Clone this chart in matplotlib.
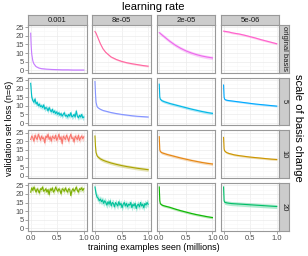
import numpy as np
import matplotlib
matplotlib.use("Agg")
import matplotlib.pyplot as plt

plt.rcParams["font.family"] = ["Liberation Sans", "DejaVu Sans"]

learning_rates = ["0.001", "8e-05", "2e-05", "5e-06"]
scales = ["original basis", "5", "10", "20"]

# colours as ggplot's hue palette assigned them (string-sorted factor levels)
colours = {
    ("original basis", "0.001"): "#C77CFF", ("original basis", "8e-05"): "#FF68A1",
    ("original basis", "2e-05"): "#ED68ED", ("original basis", "5e-06"): "#FF61CC",
    ("5", "0.001"): "#00BFC4", ("5", "8e-05"): "#8494FF",
    ("5", "2e-05"): "#00B8E7", ("5", "5e-06"): "#00A9FF",
    ("10", "0.001"): "#F8766D", ("10", "8e-05"): "#ABA300",
    ("10", "2e-05"): "#E68613", ("10", "5e-06"): "#CD9600",
    ("20", "0.001"): "#7CAE00", ("20", "8e-05"): "#00C19A",
    ("20", "2e-05"): "#0CB702", ("20", "5e-06"): "#00BE67",
}

# smooth runs, sampled at these points (millions of examples)
x_smooth = [0, 0.01, 0.02, 0.04, 0.06, 0.1, 0.15, 0.2, 0.3, 0.4, 0.5, 0.6, 0.7, 0.8, 0.9, 1.0]

orig_001 = [21.5, 14, 9.5, 5.5, 3.8, 2.2, 1.4, 1.0, 0.7, 0.5, 0.4, 0.3, 0.3, 0.2, 0.2, 0.2]
orig_8e5 = [22.5, 22, 21.5, 20, 18.5, 15.5, 12.5, 10.5, 7.8, 6.3, 5.2, 4.4, 3.8, 3.3, 2.8, 2.4]
orig_2e5 = [21.8, 21.6, 21.3, 20.8, 20.3, 19.3, 18, 16.8, 14.6, 12.8, 11.3, 10.1, 9.1, 8.3, 7.7, 7.2]
orig_5e6 = [22.7, 22.6, 22.6, 22.5, 22.4, 22.2, 21.8, 21.5, 21, 20.3, 19.5, 18.7, 17.8, 17, 16.2, 15.4]
s5_8e5 = [24, 17, 12, 9.5, 8.8, 8.0, 7.3, 6.9, 6.1, 5.5, 5.0, 4.6, 4.2, 3.9, 3.7, 3.5]
s5_2e5 = [22.5, 15, 13.8, 13.2, 12.8, 12.3, 11.8, 11.3, 10.5, 9.7, 8.9, 8.1, 7.4, 6.7, 6.1, 5.6]
s5_5e6 = [22, 15, 13.8, 13.4, 13.2, 13, 12.8, 12.6, 12.2, 11.8, 11.4, 11, 10.7, 10.4, 10.1, 9.8]
s10_8e5 = [23, 17, 13.5, 11.5, 10.8, 9.8, 9.0, 8.4, 7.4, 6.6, 5.9, 5.3, 4.8, 4.3, 3.9, 3.5]
s10_2e5 = [22.6, 15, 14, 13.5, 13.2, 12.8, 12.3, 11.9, 11.1, 10.3, 9.6, 8.9, 8.3, 7.7, 7.2, 6.8]
s10_5e6 = [22.2, 15.5, 14.4, 13.8, 13.4, 12.9, 12.5, 12.1, 11.6, 11.2, 10.8, 10.5, 10.2, 9.9, 9.6, 9.4]
s20_2e5 = [24, 16, 14.3, 13.8, 13.4, 13, 12.6, 12.2, 11.2, 10.3, 9.5, 8.7, 8.0, 7.4, 6.8, 6.3]
s20_5e6 = [24, 16, 15.2, 15, 14.8, 14.6, 14.4, 14.3, 14.1, 13.9, 13.7, 13.5, 13.3, 13.1, 12.9, 12.7]

# noisy runs, read at evenly spaced points
s5_001 = [23, 15, 13, 12, 14, 11, 12, 10, 11, 9.5, 10, 9, 10.5, 8, 9, 8.5, 7, 9, 7.5, 6.5,
          8, 6, 7, 5.5, 6.5, 5, 6, 4.5, 5.5, 4, 5, 6, 4, 4.5, 3.5, 5, 4, 6, 3.5, 4,
          5, 3.5, 7, 4, 3, 4.5, 3.5, 5, 3, 3.5]
s10_001 = [21, 23, 22, 20, 23.5, 22, 21, 24, 22.5, 20.5, 23, 21.5, 22, 19, 23, 22, 24, 21, 22.5, 20,
           23, 22, 21.5, 23.5, 20.5, 22, 24, 21, 22.5, 18.5, 23, 22, 21, 23.5, 22, 20, 22.5, 24, 21.5, 22,
           19.5, 23, 22, 21, 23.5, 20.5, 22, 23, 21.5, 22.5]
s20_001 = [21, 23.5, 22, 24, 22.5, 21, 23, 22, 20.5, 23, 22.5, 24, 21.5, 22, 23, 21, 22.5, 19.5, 23, 22,
           23.5, 21, 22, 24, 22.5, 21.5, 23, 22, 20, 23, 22.5, 21.5, 23.5, 22, 21, 23, 22.5, 19, 22, 23,
           21.5, 22.5, 24, 22, 21, 23, 22.5, 23.5, 22, 23]
s20_8e5 = [24, 20, 18, 17.5, 16, 17, 15.5, 16.5, 14.5, 16, 15, 13.5, 15.5, 14, 16, 13, 15, 14.5, 12.5, 15,
           14, 13, 15.5, 13.5, 14.5, 12, 14, 15, 13, 14.5, 12.5, 14, 13.5, 15, 12, 14, 13, 14.5, 11.5, 13.5,
           14, 12.5, 15, 13, 14, 12, 14.5, 13.5, 15, 14]

series = {
    ("original basis", "0.001"): orig_001, ("original basis", "8e-05"): orig_8e5,
    ("original basis", "2e-05"): orig_2e5, ("original basis", "5e-06"): orig_5e6,
    ("5", "0.001"): s5_001, ("5", "8e-05"): s5_8e5, ("5", "2e-05"): s5_2e5, ("5", "5e-06"): s5_5e6,
    ("10", "0.001"): s10_001, ("10", "8e-05"): s10_8e5, ("10", "2e-05"): s10_2e5, ("10", "5e-06"): s10_5e6,
    ("20", "0.001"): s20_001, ("20", "8e-05"): s20_8e5, ("20", "2e-05"): s20_2e5, ("20", "5e-06"): s20_5e6,
}

# half width of the ribbon around each mean
band = {
    ("original basis", "0.001"): 0.3, ("original basis", "8e-05"): 0.5,
    ("original basis", "2e-05"): 1.0, ("original basis", "5e-06"): 0.6,
    ("5", "0.001"): 1.5, ("5", "8e-05"): 0.4, ("5", "2e-05"): 0.8, ("5", "5e-06"): 0.5,
    ("10", "0.001"): 1.8, ("10", "8e-05"): 1.0, ("10", "2e-05"): 0.8, ("10", "5e-06"): 0.6,
    ("20", "0.001"): 1.5, ("20", "8e-05"): 2.0, ("20", "2e-05"): 0.7, ("20", "5e-06"): 1.2,
}

W, H = 308, 256
fig = plt.figure(figsize=(W / 100, H / 100), dpi=100)

def px_axes(left, top, width, height):
    return fig.add_axes([left / W, 1 - (top + height) / H, width / W, height / H])

col_left = [28, 92.3, 156.6, 220.9]
row_top = [25, 77.7, 130.4, 183.1]
pw, ph = 58.5, 47.5
text_col = "#4D4D4D"

def strip(ax):
    ax.set_facecolor("#CCCCCC")
    ax.set_xticks([])
    ax.set_yticks([])
    for s in ax.spines.values():
        s.set_color("#999999")
        s.set_linewidth(0.8)

for r, sc in enumerate(scales):
    for c, lr in enumerate(learning_rates):
        ax = px_axes(col_left[c], row_top[r], pw, ph)
        y = np.array(series[(sc, lr)], dtype=float)
        if len(y) == len(x_smooth):
            x = np.array(x_smooth)
        else:
            x = np.linspace(0, 1, len(y))
        col = colours[(sc, lr)]
        b = band[(sc, lr)]
        ax.fill_between(x, y - b, y + b, color=col, alpha=0.3, lw=0)
        ax.plot(x, y, color=col, lw=0.8)

        ax.set_xlim(-0.05, 1.05)
        ax.set_ylim(-1.25, 26.25)
        ax.set_xticks([0, 0.5, 1.0])
        ax.set_xticks([0.25, 0.75], minor=True)
        ax.set_yticks([0, 5, 10, 15, 20, 25])
        ax.set_yticks([2.5, 7.5, 12.5, 17.5, 22.5], minor=True)
        ax.grid(which="major", color="#EBEBEB", lw=0.5)
        ax.grid(which="minor", color="#F7F7F7", lw=0.4)
        ax.set_axisbelow(True)
        for s in ax.spines.values():
            s.set_color("#999999")
            s.set_linewidth(0.8)
        ax.tick_params(which="minor", length=0)
        ax.tick_params(which="major", length=2, width=0.5, color="#7F7F7F",
                       labelsize=5.5, labelcolor=text_col, pad=1)
        if c == 0:
            ax.set_yticklabels(["0", "5", "10", "15", "20", "25"])
        else:
            ax.tick_params(axis="y", length=0, labelleft=False)
        if r == 3:
            ax.set_xticklabels(["0.0", "0.5", "1.0"])
        else:
            ax.tick_params(axis="x", length=0, labelbottom=False)

        if r == 0:
            st = px_axes(col_left[c], 15, pw, 10)
            strip(st)
            st.text(0.5, 0.45, lr, ha="center", va="center", fontsize=5.5, color="#1A1A1A")
        if c == 3:
            st = px_axes(279.4, row_top[r], 9.6, ph)
            strip(st)
            st.text(0.5, 0.5, sc, ha="center", va="center", rotation=-90,
                    fontsize=5.5, color="#1A1A1A")

fig.text(153.5 / W, 1 - 7 / H, "learning rate", ha="center", va="center", fontsize=8)
fig.text(153.5 / W, 1 - 247 / H, "training examples seen (millions)",
         ha="center", va="center", fontsize=6.5)
fig.text(10 / W, 1 - 128 / H, "validation set loss (n=6)", ha="center", va="center",
         rotation=90, fontsize=6.5)
fig.text(298 / W, 1 - 128 / H, "scale of basis change", ha="center", va="center",
         rotation=-90, fontsize=8)

fig.savefig("out.png", dpi=100)
